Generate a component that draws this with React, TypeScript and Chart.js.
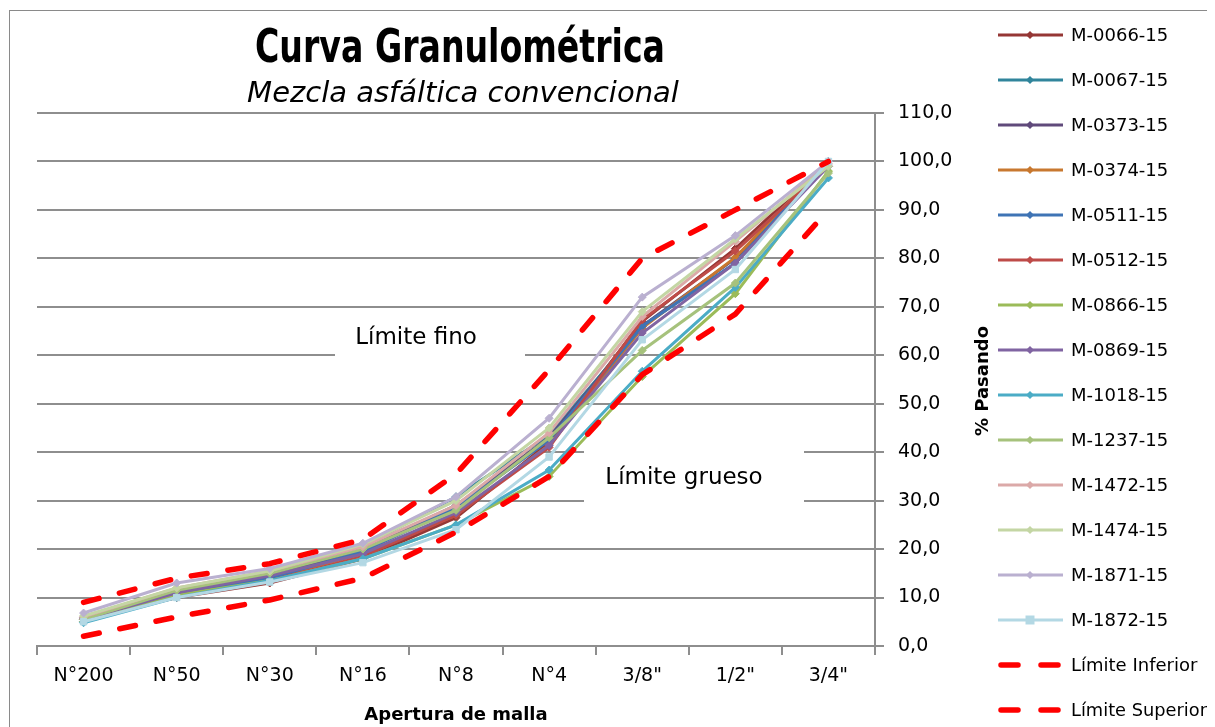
import React, { useEffect, useRef } from "react";
import { Chart, registerables } from "chart.js";

Chart.register(...registerables);

// ---------- data ----------
const categories = ["N°200", "N°50", "N°30", "N°16", "N°8", "N°4", '3/8"', '1/2"', '3/4"'];

const m0066 = [5.5, 10, 13, 18, 26.5, 42, 67, 82, 100];
const m0067 = [5.5, 11, 14.5, 20.5, 30.8, 43.5, 66, 79, 100];
const m0373 = [5.8, 11, 14.5, 20, 29, 43, 66, 80, 100];
const m0374 = [5.5, 10.5, 14, 19, 27, 41.5, 65.6, 80.2, 100];
const m0511 = [5, 10.5, 14, 19.5, 28.5, 42.5, 66, 79, 100];
const m0512 = [5.5, 10, 13.5, 18.5, 27, 41, 67.3, 81.5, 99];
const m0866 = [5, 10.5, 13.5, 18, 25, 35, 55.6, 72.7, 98];
const m0869 = [5.5, 11, 14.5, 19, 27.5, 41.4, 64.6, 79, 99];
const m1018 = [4.8, 10, 13.5, 18, 25, 36.3, 56.7, 74, 96.6];
const m1237 = [5.5, 11.5, 15, 20, 28, 43, 61, 74.9, 97.6];
const m1472 = [6, 12, 15.5, 20.5, 29, 44, 68, 83.5, 99.5];
const m1474 = [6.2, 12, 15.5, 21, 30, 45, 69, 84, 99];
const m1871 = [6.8, 13, 16, 21.2, 30.8, 47, 72, 84.7, 100];
const m1872 = [5, 10, 13.2, 17.2, 24, 39, 63.2, 77.7, 100];

const limiteInferior = [2, 6, 9.5, 14, 23.5, 35, 56, 68.5, 90];
const limiteSuperior = [9, 14, 17, 22, 35.5, 57, 80, 90, 100];

const seriesNames = [
  "M-0066-15", "M-0067-15", "M-0373-15", "M-0374-15", "M-0511-15", "M-0512-15", "M-0866-15",
  "M-0869-15", "M-1018-15", "M-1237-15", "M-1472-15", "M-1474-15", "M-1871-15", "M-1872-15",
];
const seriesData = [m0066, m0067, m0373, m0374, m0511, m0512, m0866, m0869, m1018, m1237, m1472, m1474, m1871, m1872];
const seriesColors = [
  "#953735", "#31859C", "#604A7B", "#C8782F", "#3F74B5", "#BE4B48", "#9BBB59",
  "#8064A2", "#4BACC6", "#A6C27C", "#DBA9A8", "#C4D6A4", "#BAB0D0", "#B3D8E4",
];
const seriesMarkers = ["rectRot", "rectRot", "rectRot", "rectRot", "rectRot", "rectRot", "rectRot",
  "rectRot", "rectRot", "rectRot", "rectRot", "rectRot", "rectRot", "rect"];

const limitNames = ["Límite Inferior", "Límite Superior"];
const limitData = [limiteInferior, limiteSuperior];

const yMin = 0;
const yMax = 110;
const yStep = 10;

const chartTitle = "Curva Granulométrica";
const chartSubtitle = "Mezcla asfáltica convencional";
const xTitle = "Apertura de malla";
const yTitle = "% Pasando";
const noteFino = "Límite fino";
const noteGrueso = "Límite grueso";

// ---------- styles ----------
const FONT = '"DejaVu Sans", "Noto Sans", sans-serif';
const GRID = "#8E8E8E";
const W = 1207;
const H = 719;

function drawMarker(ctx: CanvasRenderingContext2D, style: string, x: number, y: number, r: number) {
  ctx.beginPath();
  if (style === "rect") {
    ctx.rect(x - r, y - r, 2 * r, 2 * r);
  } else {
    ctx.moveTo(x, y - r);
    ctx.lineTo(x + r, y);
    ctx.lineTo(x, y + r);
    ctx.lineTo(x - r, y);
    ctx.closePath();
  }
  ctx.fill();
}

const overlayPlugin = {
  id: "overlay",
  beforeDatasetsDraw(chart: any) {
    const ctx: CanvasRenderingContext2D = chart.ctx;
    const a = chart.chartArea;
    ctx.save();
    ctx.fillStyle = "#ffffff";
    ctx.fillRect(a.left + 298, a.top + 205, 190, 42);
    ctx.fillRect(a.left + 547, a.top + 332, 220, 60);
    ctx.fillStyle = "#000";
    ctx.font = `23px ${FONT}`;
    ctx.textAlign = "center";
    ctx.textBaseline = "middle";
    ctx.fillText(noteFino, a.left + 379, a.top + 225);
    ctx.fillText(noteGrueso, a.left + 647, a.top + 365);
    ctx.restore();
  },
  afterDraw(chart: any) {
    const ctx: CanvasRenderingContext2D = chart.ctx;
    const a = chart.chartArea;
    const cx = (a.left + a.right) / 2;
    ctx.save();
    // outer border
    ctx.strokeStyle = "#8a8a8a";
    ctx.lineWidth = 1;
    ctx.strokeRect(1.5, 2.5, W + 20, H + 20);

    // title (condensed horizontally to mimic the narrow bold face)
    ctx.fillStyle = "#000";
    ctx.textAlign = "center";
    ctx.textBaseline = "alphabetic";
    ctx.font = `bold 46px ${FONT}`;
    const tw = ctx.measureText(chartTitle).width;
    const sx = Math.min(1, 410 / tw);
    ctx.save();
    ctx.translate(cx + 4, 54);
    ctx.scale(sx, 1);
    ctx.fillText(chartTitle, 0, 0);
    ctx.restore();

    ctx.font = `italic 29px ${FONT}`;
    ctx.fillText(chartSubtitle, cx + 7, 94);

    // axis titles
    ctx.font = `bold 18px ${FONT}`;
    ctx.textBaseline = "middle";
    ctx.fillText(xTitle, cx, 707);
    ctx.save();
    ctx.translate(975, 373);
    ctx.rotate(-Math.PI / 2);
    ctx.fillText(yTitle, 0, 0);
    ctx.restore();

    // legend
    const ds = chart.data.datasets;
    ctx.font = `18px ${FONT}`;
    ctx.textAlign = "left";
    ds.forEach((d: any, i: number) => {
      const y = 27 + 45 * i;
      ctx.save();
      ctx.strokeStyle = d.borderColor;
      ctx.fillStyle = d.borderColor;
      if (d.borderDash && d.borderDash.length) {
        ctx.lineWidth = 5.5;
        ctx.lineCap = "round";
        ctx.beginPath();
        ctx.moveTo(993, y); ctx.lineTo(1010, y);
        ctx.moveTo(1033, y); ctx.lineTo(1050, y);
        ctx.stroke();
      } else {
        ctx.lineWidth = 3;
        ctx.beginPath();
        ctx.moveTo(990, y); ctx.lineTo(1055, y);
        ctx.stroke();
        drawMarker(ctx, d.pointStyle, 1022, y, d.pointStyle === "rect" ? 4.5 : 4);
      }
      ctx.restore();
      ctx.fillStyle = "#000";
      const label = String(d.label);
      const lw = ctx.measureText(label).width;
      const maxW = 136;
      if (lw > maxW) {
        ctx.save();
        ctx.translate(1063, y + 1);
        ctx.scale(maxW / lw, 1);
        ctx.fillText(label, 0, 0);
        ctx.restore();
      } else {
        ctx.fillText(label, 1063, y + 1);
      }
    });
    ctx.restore();
  },
};

export default function App() {
  const ref = useRef<HTMLCanvasElement | null>(null);

  useEffect(() => {
    if (!ref.current) return;
    const n = seriesNames.length;
    const datasets: any[] = seriesNames.map((name, i) => ({
      label: name,
      data: seriesData[i],
      borderColor: seriesColors[i],
      backgroundColor: seriesColors[i],
      pointBackgroundColor: seriesColors[i],
      pointBorderColor: seriesColors[i],
      borderWidth: 3,
      pointStyle: seriesMarkers[i],
      pointRadius: seriesMarkers[i] === "rect" ? 4.5 : 4,
      pointBorderWidth: 1,
      tension: 0,
      fill: false,
      order: n + 2 - i,
    }));
    limitNames.forEach((name, j) => {
      datasets.push({
        label: name,
        data: limitData[j],
        borderColor: "#FF0000",
        backgroundColor: "#FF0000",
        borderWidth: 5.5,
        borderDash: [16, 21],
        borderCapStyle: "round",
        borderJoinStyle: "round",
        pointRadius: 0,
        tension: 0,
        fill: false,
        order: 1 - j,
      });
    });

    const chart = new Chart(ref.current, {
      type: "line",
      data: { labels: categories, datasets },
      options: {
        animation: false,
        responsive: false,
        devicePixelRatio: 1,
        layout: { padding: { left: 29, top: 105, right: 0, bottom: 0 } },
        plugins: {
          legend: { display: false },
          title: { display: false },
          tooltip: { enabled: false },
        },
        scales: {
          x: {
            type: "category",
            offset: true,
            grid: { offset: true, drawOnChartArea: false, drawTicks: true, tickLength: 9, color: GRID, lineWidth: 2 },
            border: { display: true, color: GRID, width: 2 },
            ticks: { color: "#000", font: { family: FONT, size: 19 }, padding: 10, maxRotation: 0, autoSkip: false },
            afterFit: (s: any) => { s.height = 81; },
          },
          y: {
            position: "right",
            min: yMin,
            max: yMax,
            grid: { color: GRID, lineWidth: 2, tickLength: 9, drawTicks: true },
            border: { display: true, color: GRID, width: 2 },
            ticks: {
              stepSize: yStep,
              color: "#000",
              font: { family: FONT, size: 19 },
              padding: 14,
              callback: (v: any) => Number(v).toFixed(1).replace(".", ","),
            },
            afterFit: (s: any) => { s.width = 340; },
          },
        },
      } as any,
      plugins: [overlayPlugin],
    });
    return () => chart.destroy();
  }, []);

  return (
    <div style={{ width: W, height: H }}>
      <canvas ref={ref} width={W} height={H} style={{ display: "block", width: W, height: H }} />
    </div>
  );
}
